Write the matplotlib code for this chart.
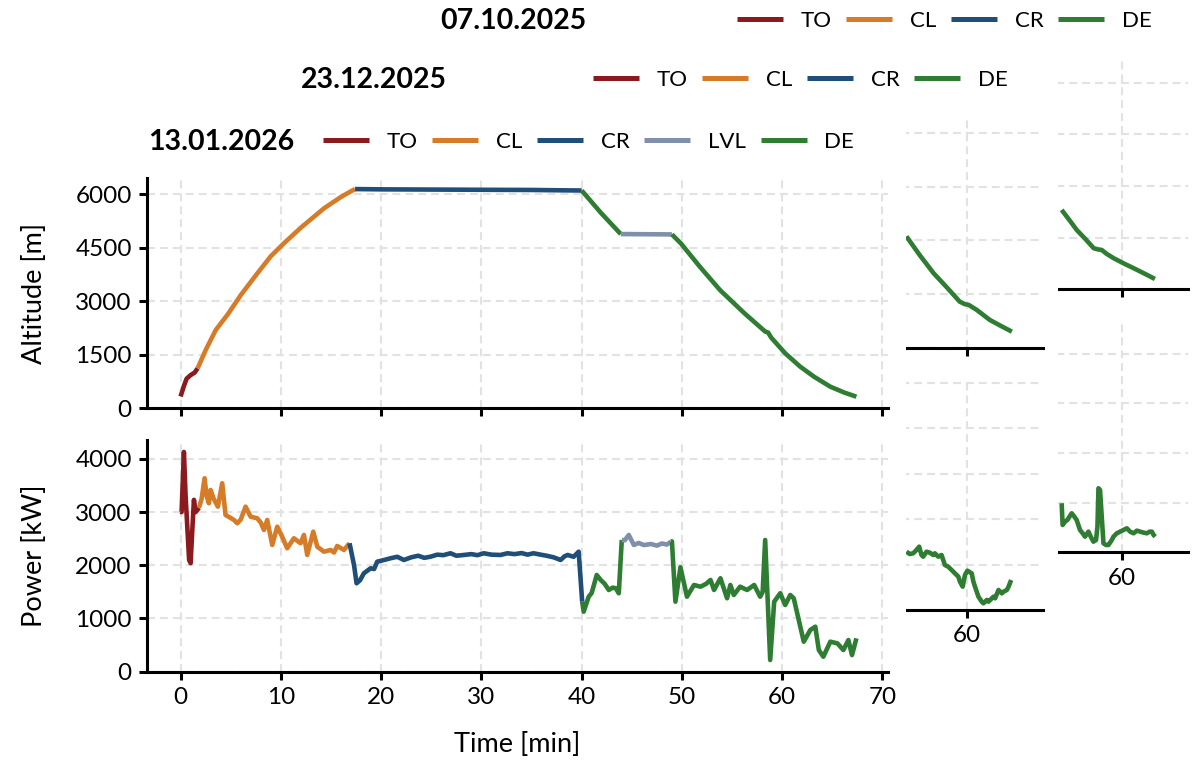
import matplotlib
matplotlib.use('Agg')
import matplotlib.pyplot as plt
from matplotlib.lines import Line2D
from matplotlib.patches import Rectangle

plt.rcParams['font.family'] = ['Lato', 'DejaVu Sans']

# ---------------- data ----------------
phase_colors = {'TO': '#8B1A1E', 'CL': '#D67B27', 'CR': '#1F4E79',
                'LVL': '#8090AA', 'DE': '#2E7D32'}

# Flight 13.01.2026 (front)
alt_to_t = [0.0, 0.3, 0.6, 1.0, 1.4, 1.7]
alt_to = [330, 600, 830, 930, 1000, 1120]
alt_cl_t = [1.7, 2.5, 3.5, 4.7, 6.0, 7.6, 9.0, 10.3, 12.0, 14.3, 16.0, 17.0, 17.4]
alt_cl = [1120, 1630, 2190, 2630, 3170, 3760, 4260, 4620, 5060, 5600, 5920, 6080, 6140]
alt_cr_t = [17.4, 20, 25, 30, 35, 38, 40.0]
alt_cr = [6140, 6132, 6126, 6120, 6115, 6105, 6100]
alt_de1_t = [40.0, 41.9, 43.9]
alt_de1 = [6100, 5480, 4880]
alt_lvl_t = [43.9, 46.0, 49.0]
alt_lvl = [4880, 4876, 4870]
alt_de2_t = [49.0, 49.9, 51.8, 53.8, 56.2, 58.3, 58.6, 58.9, 60.3, 61.8, 63.2, 64.8, 66.2, 67.4]
alt_de2 = [4870, 4617, 3960, 3310, 2670, 2150, 2120, 1980, 1540, 1165, 880, 605, 440, 325]

pw_to_t = [0.0, 0.1, 0.33, 0.5, 0.85, 1.0, 1.15, 1.33, 1.5, 1.83]
pw_to = [3010, 3000, 4130, 3300, 2100, 2040, 2600, 3230, 3000, 3080]
pw_cl_t = [1.83, 2.1, 2.39, 2.6, 2.82, 2.99, 3.3, 3.72, 4.15, 4.48, 4.9, 5.32, 5.65, 6.0,
           6.48, 6.98, 7.64, 8.0, 8.31, 8.64, 9.14, 9.64, 10.1, 10.63, 11.3, 11.96, 12.3,
           12.63, 13.23, 13.63, 14.29, 14.96, 15.3, 15.62, 16.29, 16.85]
pw_cl = [3080, 3250, 3636, 3300, 3166, 3416, 3250, 3102, 3542, 2946, 2900, 2852, 2790, 2860,
         3102, 2914, 2884, 2800, 2664, 2852, 2382, 2726, 2550, 2320, 2508, 2414, 2570,
         2194, 2632, 2350, 2256, 2288, 2240, 2363, 2288, 2414]
pw_cr_t = [16.85, 17.3, 17.55, 17.9, 18.28, 18.95, 19.3, 19.61, 20.3, 20.94, 21.6, 22.27,
           23.0, 23.7, 24.3, 24.93, 25.6, 26.2, 26.92, 27.5, 28.25, 29.0, 29.6, 30.24, 31.0,
           31.9, 32.6, 33.3, 34.0, 34.6, 35.2, 35.9, 36.5, 37.2, 37.9, 38.3, 38.6, 39.2,
           39.7, 40.05]
pw_cr = [2414, 2000, 1662, 1720, 1850, 1944, 1930, 2068, 2100, 2132, 2160, 2100,
         2150, 2180, 2140, 2162, 2200, 2190, 2226, 2180, 2194, 2210, 2190, 2226, 2200,
         2194, 2226, 2210, 2230, 2200, 2226, 2200, 2180, 2150, 2100, 2170, 2194, 2160,
         2256, 1316]
pw_de1_t = [40.05, 40.2, 40.7, 41.0, 41.5, 41.9, 42.3, 42.7, 43.1, 43.4, 43.7, 44.0]
pw_de1 = [1316, 1128, 1410, 1480, 1818, 1724, 1650, 1536, 1580, 1568, 1474, 2476]
pw_lvl_t = [44.0, 44.3, 44.7, 45.2, 45.7, 46.2, 46.9, 47.5, 48.0, 48.5, 48.9]
pw_lvl = [2476, 2470, 2570, 2382, 2420, 2380, 2400, 2370, 2410, 2390, 2444]
pw_de2_t = [48.9, 49.0, 49.35, 49.85, 50.5, 51.2, 51.85, 52.4, 52.85, 53.2, 53.84, 54.5,
            54.83, 55.17, 55.8, 56.5, 57.2, 57.8, 58.05, 58.3, 58.8, 59.2, 59.8, 60.3,
            60.8, 61.15, 61.65, 62.15, 62.8, 63.3, 63.65, 64.1, 64.8, 65.5, 66.1, 66.6,
            66.96, 67.4]
pw_de2 = [2444, 2450, 1316, 1963, 1410, 1630, 1598, 1650, 1724, 1536, 1756, 1380,
          1630, 1442, 1598, 1536, 1630, 1410, 1500, 2476, 220, 1316, 1474, 1254,
          1442, 1380, 972, 564, 784, 846, 408, 282, 564, 533, 408, 595,
          313, 627]

# Flight 23.12.2025 (middle) - descent tail
mid_alt_t = [54.0, 55.3, 56.7, 58.0, 59.3, 59.8, 60.2, 61.0, 62.3, 63.4, 64.5]
mid_alt = [3113, 2599, 2085, 1694, 1290, 1220, 1197, 1057, 777, 610, 449]
mid_pw_t = [54.0, 54.33, 54.67, 55.0, 55.27, 55.5, 55.67, 56.0, 56.33, 56.67, 56.83, 57.17,
            57.5, 57.83, 58.17, 58.33, 58.67, 58.83, 59.17, 59.33, 59.6, 59.83, 60.07,
            60.5, 60.67, 60.83, 61.17, 61.5, 61.67, 62.0, 62.17, 62.67, 62.83, 63.17,
            63.5, 63.67, 64.0, 64.17, 64.43]
mid_pw = [1282, 1231, 1246, 1319, 1392, 1209, 1172, 1282, 1260, 1209, 1246, 1172,
          1209, 989, 952, 916, 842, 806, 733, 623, 513, 769, 864,
          806, 623, 513, 293, 183, 147, 220, 183, 293, 257, 440,
          366, 403, 440, 513, 659]

# Flight 07.10.2025 (back) - descent tail
back_alt_t = [54.0, 54.8, 55.5, 56.4, 57.2, 57.6, 58.0, 58.5, 59.2, 60.2, 61.2, 62.3, 63.3]
back_alt = [2305, 2000, 1724, 1450, 1192, 1160, 1142, 1026, 901, 750, 610, 450, 300]
back_pw_t = [54.0, 54.1, 54.33, 54.57, 55.0, 55.27, 55.5, 55.83, 56.1, 56.33, 56.67, 56.9,
             57.17, 57.43, 57.57, 57.67, 57.83, 58.0, 58.17, 58.43, 58.67, 59.0, 59.17,
             59.5, 59.83, 60.17, 60.5, 60.83, 61.17, 61.5, 61.83, 62.17, 62.5, 62.77,
             63.0, 63.17, 63.33]
back_pw = [988, 550, 617, 651, 786, 718, 651, 450, 383, 315, 416, 315,
           214, 248, 517, 1290, 1256, 718, 181, 147, 147, 248, 315,
           383, 416, 450, 484, 416, 383, 436, 416, 396, 383, 416,
           416, 349, 315]

alt_ticks = [0, 1500, 3000, 4500, 6000]
x_ticks = [0, 10, 20, 30, 40, 50, 60, 70]

# ---------------- layout helpers ----------------
W, H = 1195, 761
fig = plt.figure(figsize=(W / 100, H / 100), dpi=100)

TICK_FS = 17.5
LABEL_FS = 19.5
LEG_FS = 16
TITLE_FS = 20.5
LW = 3.3


def box(l, t, r, b):
    return [l / W, 1 - b / H, (r - l) / W, (b - t) / H]


def style(ax, z):
    ax.set_zorder(z)
    ax.patch.set_alpha(0)
    for s in ['top', 'right']:
        ax.spines[s].set_visible(False)
    for s in ['left', 'bottom']:
        ax.spines[s].set_linewidth(2.2)
    ax.tick_params(width=2.2, length=6, labelsize=TICK_FS, colors='black', pad=5)
    ax.grid(True, color='#e2e2e2', linestyle=(0, (3.8, 2.4)), linewidth=1.5)
    ax.set_axisbelow(True)


def cover(l, t, r, b, z):
    fig.add_artist(Rectangle((l / W, 1 - b / H), (r - l) / W, (b - t) / H,
                             transform=fig.transFigure, facecolor='white',
                             edgecolor='none', zorder=z))


def header(title, xc, xleg, y, phases, z):
    fig.text(xc / W, 1 - y / H, title, ha='center', va='center', fontsize=TITLE_FS,
             fontweight='bold', zorder=z)
    handles = [Line2D([], [], color=phase_colors[p], lw=3.6, solid_capstyle='butt')
               for p in phases]
    leg = fig.legend(handles, phases, loc='center left', bbox_to_anchor=(xleg / W, 1 - y / H),
                     ncol=len(phases), frameon=False, fontsize=LEG_FS, handlelength=2.07,
                     handletextpad=0.8, columnspacing=0.66, borderpad=0, borderaxespad=0)
    leg.set_zorder(z)


def limits(ax, xlim, ylim, yticks):
    ax.set_xticks(x_ticks)
    ax.set_yticks(yticks)
    ax.set_xlim(*xlim)
    ax.set_ylim(*ylim)


# ---------------- back group: 07.10.2025 ----------------
b_alt = fig.add_axes(box(488, 58, 1188, 289.3))
b_pw = fig.add_axes(box(488, 320, 1188, 552.3))
for ax in (b_alt, b_pw):
    style(ax, 1)
    ax.tick_params(labelleft=False)   # hidden behind the front layers anyway
limits(b_alt, (-3.2, 66.6), (0, 6715), alt_ticks)
limits(b_pw, (-3.2, 66.6), (0, 4680), [0, 1000, 2000, 3000, 4000])
b_alt.tick_params(labelbottom=False)
b_alt.plot(back_alt_t, back_alt, color=phase_colors['DE'], lw=LW, solid_capstyle='butt')
b_pw.plot(back_pw_t, back_pw, color=phase_colors['DE'], lw=LW, solid_capstyle='butt')
header('07.10.2025', 513, 737, 21, ['TO', 'CL', 'CR', 'DE'], 1.5)

cover(0, 48, 1058, 761, 2)

# ---------------- middle group: 23.12.2025 ----------------
m_alt = fig.add_axes(box(333, 116, 1043, 347.7))
m_pw = fig.add_axes(box(333, 378, 1043, 610))
for ax in (m_alt, m_pw):
    style(ax, 3)
    ax.tick_params(labelleft=False)   # hidden behind the front layer anyway
limits(m_alt, (-3.1, 67.6), (0, 6480), alt_ticks)
limits(m_pw, (-3.1, 67.6), (0, 5100), [0, 1000, 2000, 3000, 4000, 5000])
m_alt.tick_params(labelbottom=False)
m_alt.plot(mid_alt_t, mid_alt, color=phase_colors['DE'], lw=LW, solid_capstyle='butt')
m_pw.plot(mid_pw_t, mid_pw, color=phase_colors['DE'], lw=LW, solid_capstyle='butt')
header('23.12.2025', 374, 593, 80, ['TO', 'CL', 'CR', 'DE'], 3.5)

cover(0, 108, 906, 761, 4)

# ---------------- front group: 13.01.2026 ----------------
f_alt = fig.add_axes(box(147, 178, 888, 408.3))
f_pw = fig.add_axes(box(147, 440, 888, 671.7))
for ax in (f_alt, f_pw):
    style(ax, 5)
limits(f_alt, (-3.35, 70.55), (0, 6450), alt_ticks)
limits(f_pw, (-3.35, 70.55), (0, 4355), [0, 1000, 2000, 3000, 4000])
f_alt.tick_params(labelbottom=False)

alt_segments = [(alt_to_t, alt_to, 'TO'), (alt_cl_t, alt_cl, 'CL'), (alt_cr_t, alt_cr, 'CR'),
                (alt_de1_t, alt_de1, 'DE'), (alt_lvl_t, alt_lvl, 'LVL'),
                (alt_de2_t, alt_de2, 'DE')]
pw_segments = [(pw_to_t, pw_to, 'TO'), (pw_cl_t, pw_cl, 'CL'), (pw_cr_t, pw_cr, 'CR'),
               (pw_de1_t, pw_de1, 'DE'), (pw_lvl_t, pw_lvl, 'LVL'),
               (pw_de2_t, pw_de2, 'DE')]
for t, v, p in alt_segments:
    f_alt.plot(t, v, color=phase_colors[p], lw=LW, solid_capstyle='butt', solid_joinstyle='round')
for t, v, p in pw_segments:
    f_pw.plot(t, v, color=phase_colors[p], lw=LW, solid_capstyle='butt', solid_joinstyle='round')

f_alt.set_ylabel('Altitude [m]', fontsize=LABEL_FS)
f_pw.set_ylabel('Power [kW]', fontsize=LABEL_FS)
f_alt.yaxis.set_label_coords((47 - 147) / 741, 0.5)
f_pw.yaxis.set_label_coords((47 - 147) / 741, 0.5)
f_pw.set_xlabel('Time [min]', fontsize=LABEL_FS)
f_pw.xaxis.set_label_coords(0.5, (671.7 - 732) / 231.7)
header('13.01.2026', 221, 323, 142, ['TO', 'CL', 'CR', 'LVL', 'DE'], 5.5)

fig.savefig('out.png', dpi=100)
